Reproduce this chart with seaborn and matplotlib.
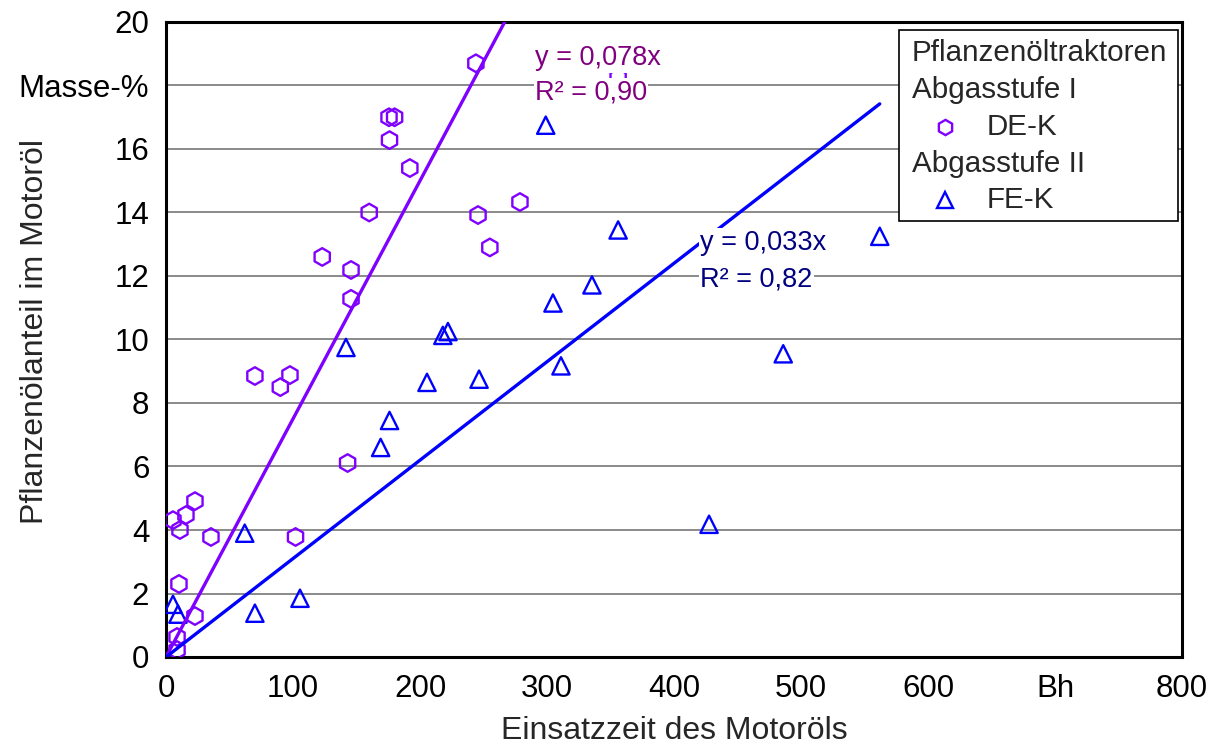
import numpy as np
import pandas as pd
import matplotlib
matplotlib.use("Agg")
import matplotlib.pyplot as plt
import seaborn as sns
from matplotlib.patches import Rectangle

# ---------------- data ----------------
de_x = [244, 175.6, 180, 176, 192, 160, 245.7, 278.7, 255, 123, 145.7, 145.7,
        70, 97.6, 90, 143, 102, 22.8, 15.7, 5.5, 11, 35.4, 10.2, 22.8, 8.7, 8.7, 356]
de_y = [18.7, 17.0, 17.0, 16.28, 15.4, 14.0, 13.92, 14.33, 12.9, 12.6, 12.19, 11.28,
        8.85, 8.88, 8.5, 6.11, 3.78, 4.91, 4.47, 4.31, 4.0, 3.78, 2.3, 1.29, 0.63, 0.22, 18.25]

fe_x = [299, 356, 562, 335.4, 304.7, 222, 218, 141.7, 311, 486, 205.5, 246.5,
        176, 169, 62, 427.6, 105.5, 70, 5.5, 9.4]
fe_y = [16.75, 13.45, 13.25, 11.72, 11.15, 10.25, 10.13, 9.75, 9.17, 9.55, 8.65, 8.75,
        7.45, 6.6, 3.9, 4.18, 1.85, 1.38, 1.66, 1.35]

series_names = ["DE-K", "FE-K"]
trend_slopes = [0.075, 0.031]
eq_labels = ["y = 0,078x", "y = 0,033x"]
r2_labels = ["R² = 0,90", "R² = 0,82"]
legend_title = "Pflanzenöltraktoren"
legend_groups = ["Abgasstufe I", "Abgasstufe II"]

x_ticks = [0, 100, 200, 300, 400, 500, 600, 700, 800]
x_ticklabels = ["0", "100", "200", "300", "400", "500", "600", "Bh", "800"]
y_ticks = [0, 2, 4, 6, 8, 10, 12, 14, 16, 18, 20]
y_ticklabels = ["0", "2", "4", "6", "8", "10", "12", "14", "16", "Masse-%", "20"]
x_label = "Einsatzzeit des Motoröls"
y_label = "Pflanzenölanteil im Motoröl"

# ---------------- style ----------------
sns.set_style("white")
plt.rcParams["font.family"] = ["Liberation Sans", "DejaVu Sans"]

purple = "#7F00FF"
purple_text = "#800080"
blue = "#0000FF"
blue_text = "#000080"
FS = 19.5
FS_TICK = 22.5
FS_LEG = 21.3
FS_LAB = 23

W, H = 1217, 747
fig = plt.figure(figsize=(W / 100, H / 100), dpi=100)
L, R, T, B = 166, 1182, 22, 657
ax = fig.add_axes([L / W, (H - B) / H, (R - L) / W, (B - T) / H])

df = pd.concat([
    pd.DataFrame({"x": de_x, "y": de_y, "serie": series_names[0]}),
    pd.DataFrame({"x": fe_x, "y": fe_y, "serie": series_names[1]}),
], ignore_index=True)

colors = [purple, blue]
markers = ["h", "^"]
sizes = [160, 155]
for name, col, mk, sz, slope in zip(series_names, colors, markers, sizes, trend_slopes):
    sub = df[df["serie"] == name]
    sns.scatterplot(data=sub, x="x", y="y", marker=mk, s=sz, facecolors="none",
                    edgecolor=col, color=col, linewidth=1.7, ax=ax, zorder=3,
                    legend=False)
    xl = np.array([0.0, sub["x"].max()])
    sns.lineplot(x=xl, y=slope * xl, color=col, lw=2.4, ax=ax, zorder=4,
                 legend=False)

ax.set_xlim(0, 800)
ax.set_ylim(0, 20)
ax.set_xticks(x_ticks)
ax.set_xticklabels(x_ticklabels)
ax.set_yticks(y_ticks)
ax.set_yticklabels(y_ticklabels)
ax.tick_params(axis="both", direction="out", length=9, width=1.8,
               labelsize=FS_TICK, colors="black", pad=3)
ax.set_axisbelow(True)
ax.yaxis.grid(True, color="#777777", lw=1.2)
ax.xaxis.grid(False)
for s in ax.spines.values():
    s.set_visible(True)
    s.set_color("black")
    s.set_linewidth(2.2)

ax.set_xlabel(x_label, fontsize=FS_LAB)
ax.xaxis.set_label_coords(0.5, -0.093)
ax.set_ylabel(y_label, fontsize=FS_LAB)
ax.yaxis.set_label_coords(-0.114, 0.513)

# trend annotations (white background hides what lies beneath)
bb = dict(facecolor="white", edgecolor="none", pad=1.0)
ax.text(290.5, 18.86, eq_labels[0], color=purple_text, fontsize=FS, ha="left",
        va="center", bbox=bb, zorder=6)
ax.text(290.5, 17.78, r2_labels[0], color=purple_text, fontsize=FS, ha="left",
        va="center", bbox=bb, zorder=6)
ax.text(420.5, 13.05, eq_labels[1], color=blue_text, fontsize=FS, ha="left",
        va="center", bbox=bb, zorder=6)
ax.text(420.5, 11.9, r2_labels[1], color=blue_text, fontsize=FS, ha="left",
        va="center", bbox=bb, zorder=6)

# legend box drawn by hand (headers flush left, entries indented)
def ax_xy(px, py):
    return (px - L) / (R - L), (B - py) / (B - T)

x0, y0 = ax_xy(899, 221)
x1, y1 = ax_xy(1178, 30)
ax.add_patch(Rectangle((x0, y0), x1 - x0, y1 - y0, transform=ax.transAxes,
                       facecolor="white", edgecolor="black", lw=1.2, zorder=7,
                       clip_on=False))
rows = [(legend_title, None, None), (legend_groups[0], None, None),
        (series_names[0], markers[0], colors[0]), (legend_groups[1], None, None),
        (series_names[1], markers[1], colors[1])]
row_py = [53, 90, 127, 164, 200]
for (txt, mk, col), py in zip(rows, row_py):
    if mk is None:
        tx, ty = ax_xy(912, py)
        ax.text(tx, ty, txt, transform=ax.transAxes, fontsize=FS_LEG, ha="left",
                va="center", zorder=8)
    else:
        mx, my = ax_xy(945, py)
        ax.plot([mx], [my], marker=mk, ms=11, mfc="none",
                mec=col, mew=1.7, ls="none", transform=ax.transAxes,
                clip_on=False, zorder=8)
        tx, ty = ax_xy(987, py)
        ax.text(tx, ty, txt, transform=ax.transAxes, fontsize=FS_LEG, ha="left",
                va="center", zorder=8)

fig.savefig("out.png", dpi=100, facecolor="white")
